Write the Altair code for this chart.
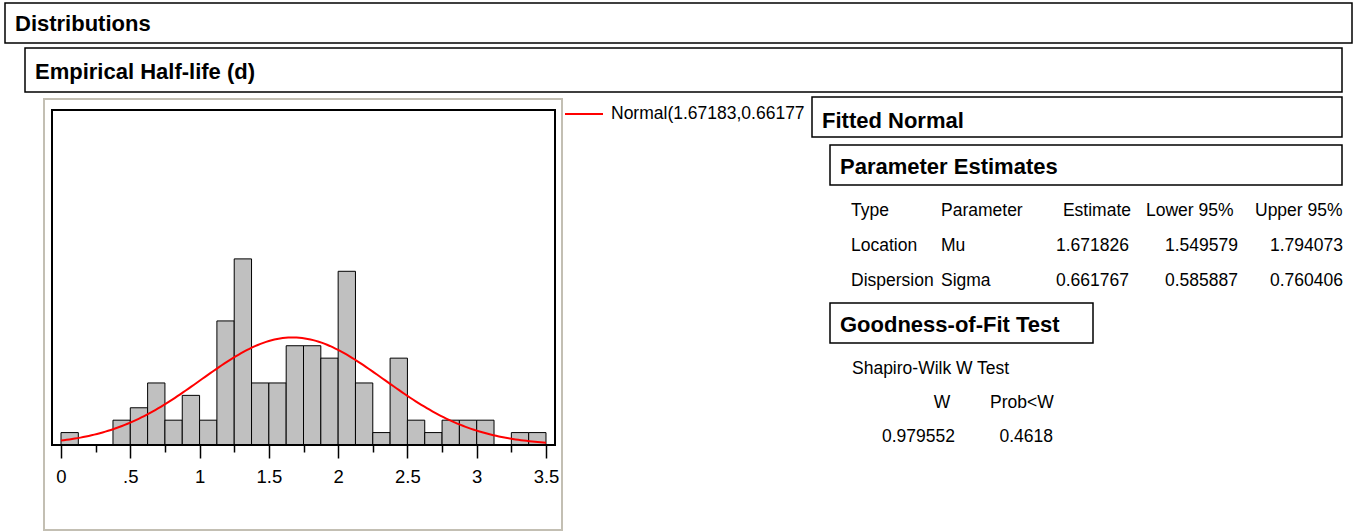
import altair as alt
import numpy as np
import pandas as pd

# Histogram of empirical half-life (d): counts per 0.125-day bin from 0 to 3.5
bin_width = 0.125
counts = [1, 0, 0, 2, 3, 5, 2, 4, 2, 10, 15, 5, 5, 8, 8, 7, 14, 5, 1, 7, 2, 1, 2, 2, 2, 0, 1, 1]

# Fitted normal parameters
mu = 1.671826
sigma = 0.661767
legend_text = "Normal(1.67183,0.66177"

# Parameter estimates table
param_header = ["Type", "Parameter", "Estimate", "Lower 95%", "Upper 95%"]
param_type = ["Location", "Dispersion"]
param_name = ["Mu", "Sigma"]
estimate = ["1.671826", "0.661767"]
lower95 = ["1.549579", "0.585887"]
upper95 = ["1.794073", "0.760406"]

# Shapiro-Wilk test
sw_w = "0.979552"
sw_p = "0.4618"

tick_values = [i * 0.25 for i in range(15)]

FONT = "Liberation Sans"
REG_SIZE = 17.5
BOLD_SIZE = 22

bars = pd.DataFrame({
    "lo": [i * bin_width for i in range(len(counts))],
    "hi": [(i + 1) * bin_width for i in range(len(counts))],
    "count": counts,
})
bars["base"] = 0
bars = bars[bars["count"] > 0]

n_obs = sum(counts)
xs = np.linspace(0, 3.5, 176)
curve = pd.DataFrame({
    "x": xs,
    "y": n_obs * bin_width * np.exp(-0.5 * ((xs - mu) / sigma) ** 2) / (sigma * np.sqrt(2 * np.pi)),
})

one = pd.DataFrame({"k": [0]})

x_scale = alt.Scale(domain=[-0.065, 3.565], range=[52, 555], nice=False, zero=False)
y_scale = alt.Scale(domain=[0, 27], range=[445, 110], nice=False, zero=False)


def box(x1, y1, x2, y2, stroke="black", width=1.5, fill="white", opacity=1):
    return alt.Chart(one).mark_rect(
        fill=fill, fillOpacity=opacity, stroke=stroke, strokeWidth=width
    ).encode(x=alt.value(x1), x2=alt.value(x2), y=alt.value(y1), y2=alt.value(y2))


def label(txt, x, y, bold=False, align="left"):
    return alt.Chart(one).mark_text(
        text=txt,
        align=align,
        baseline="middle",
        font=FONT,
        fontWeight="bold" if bold else "normal",
        fontSize=BOLD_SIZE if bold else REG_SIZE,
        color="black",
    ).encode(x=alt.value(x), y=alt.value(y))


layers = []

# Outline panel around the histogram
layers.append(box(44, 99, 562, 530, stroke="#c3bfb3", width=2, opacity=0))

# Histogram bars
hist = alt.Chart(bars).mark_rect(fill="#c0c0c0", stroke="black", strokeWidth=1).encode(
    x=alt.X(
        "lo:Q",
        scale=x_scale,
        axis=alt.Axis(
            values=tick_values,
            title="",
            grid=False,
            domain=False,
            tickColor="black",
            tickWidth=1.5,
            tickSize={"condition": {"test": "datum.value % 0.5 == 0", "value": 13}, "value": 7},
            labelExpr="datum.value % 0.5 != 0 ? '' : (datum.value == 0.5 ? '.5' : '' + datum.value)",
            labelFont=FONT,
            labelFontSize=18.5,
            labelColor="black",
            labelPadding=9,
            labelFlush=False,
            labelOverlap=False,
        ),
    ),
    x2="hi:Q",
    y=alt.Y("count:Q", scale=y_scale, axis=None),
    y2="base:Q",
)
layers.append(hist)

# Fitted normal density curve
layers.append(
    alt.Chart(curve).mark_line(color="#ff0000", strokeWidth=2).encode(
        x=alt.X("x:Q", scale=x_scale), y=alt.Y("y:Q", scale=y_scale)
    )
)

# Plot frame
layers.append(box(52, 110, 555, 445, width=2, opacity=0))

# Legend
layers.append(
    alt.Chart(one).mark_rule(color="#ff0000", strokeWidth=2).encode(
        x=alt.value(565), x2=alt.value(603), y=alt.value(114)
    )
)
layers.append(label(legend_text, 611, 114))

# Outline headers
layers.append(box(5, 3, 1352, 43))
layers.append(label("Distributions", 15, 24, bold=True))
layers.append(box(25, 48, 1342, 92))
layers.append(label("Empirical Half-life (d)", 35, 72, bold=True))
layers.append(box(812, 97, 1342, 137))
layers.append(label("Fitted Normal", 822, 121, bold=True))
layers.append(box(830, 145, 1342, 185))
layers.append(label("Parameter Estimates", 840, 167, bold=True))

# Parameter estimates table
col_x = [851, 941, 1129, 1238, 1343]
col_align = ["left", "left", "right", "right", "right"]
row_y = [211, 246, 281]
header_x = [851, 941, 1131, 1146, 1255]
header_align = ["left", "left", "right", "left", "left"]
for txt, x, a in zip(param_header, header_x, header_align):
    layers.append(label(txt, x, row_y[0], align=a))
for i in range(len(param_type)):
    row = [param_type[i], param_name[i], estimate[i], lower95[i], upper95[i]]
    for txt, x, a in zip(row, col_x, col_align):
        layers.append(label(txt, x, row_y[i + 1], align=a))

# Goodness-of-fit
layers.append(box(830, 303, 1093, 343))
layers.append(label("Goodness-of-Fit Test", 840, 325, bold=True))
layers.append(label("Shapiro-Wilk W Test", 852, 369))
layers.append(label("W", 942, 403, align="center"))
layers.append(label("Prob<W", 990, 403))
layers.append(label(sw_w, 955, 437, align="right"))
layers.append(label(sw_p, 1053, 437, align="right"))

chart = (
    alt.layer(*layers)
    .properties(
        width=1355,
        height=445,
        padding={"left": 0, "top": 0, "right": 0, "bottom": 86},
        autosize=alt.AutoSizeParams(type="none"),
        background="white",
    )
    .configure_view(strokeWidth=0)
)

chart.save("out.html", embed_options={"renderer": "svg", "actions": False})
